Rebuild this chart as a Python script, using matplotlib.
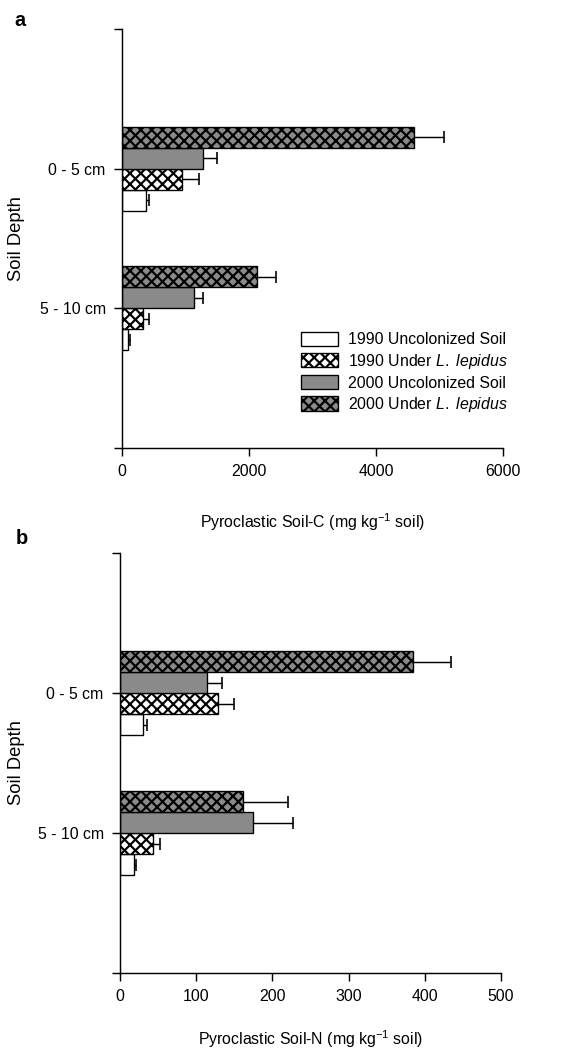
import numpy as np
import matplotlib
matplotlib.use("Agg")
import matplotlib.pyplot as plt

plt.rcParams['font.family'] = ['Liberation Sans', 'DejaVu Sans']
plt.rcParams['mathtext.fontset'] = 'custom'
plt.rcParams['mathtext.rm'] = 'Liberation Sans'
plt.rcParams['mathtext.it'] = 'Liberation Sans:italic'
plt.rcParams['hatch.linewidth'] = 1.2

# --- data ---
depths = ['0 - 5 cm', '5 - 10 cm']
series = ['1990 Uncolonized Soil', r'1990 Under $\mathit{L.\ lepidus}$',
          '2000 Uncolonized Soil', r'2000 Under $\mathit{L.\ lepidus}$']

carbon = [[375, 95], [945, 335], [1275, 1135], [4600, 2125]]
carbon_err = [[50, 30], [265, 85], [220, 145], [470, 300]]

nitrogen = [[30, 18], [129, 43], [114, 174], [385, 162]]
nitrogen_err = [[5, 3], [21, 10], [20, 53], [50, 59]]

# --- style ---
fills = ['white', 'white', '#8a8a8a', '#8a8a8a']
hatches = [None, 'xxxx', None, 'xxxx']
bar_h = 0.15
offsets = (np.arange(4) - 1.5) * bar_h

fig = plt.figure(figsize=(4.5, 1050 / 130), dpi=130)
ax_a = fig.add_axes([122 / 585, 1 - 448 / 1050, 381 / 585, 419 / 1050])
ax_b = fig.add_axes([120 / 585, 1 - 973 / 1050, 381 / 585, 420 / 1050])


def draw(ax, vals, errs, xmax, step, xlabel, ylab_x, xlab_y):
    ypos = len(depths) - np.arange(len(depths))
    handles = []
    for k in range(4):
        b = ax.barh(ypos + offsets[k], vals[k], height=bar_h, color=fills[k],
                    edgecolor='black', linewidth=0.75, hatch=hatches[k],
                    label=series[k], zorder=2)
        ax.errorbar(vals[k], ypos + offsets[k],
                    xerr=[np.zeros(len(depths)), errs[k]], fmt='none',
                    ecolor='black', elinewidth=0.8, capsize=3.5,
                    capthick=0.9, zorder=1)
        handles.append(b)
    ax.set_xlim(0, xmax)
    ax.set_ylim(0, 3)
    ax.set_xticks(np.arange(0, xmax + 1, step))
    ax.set_yticks([0, 1, 2, 3])
    ax.set_yticklabels(['', depths[1], depths[0], ''])
    for s in ['top', 'right']:
        ax.spines[s].set_visible(False)
    for s in ['left', 'bottom']:
        ax.spines[s].set_linewidth(0.8)
    ax.tick_params(length=4.5, width=0.8, labelsize=8.8, pad=4.5)
    ax.set_xlabel(xlabel, fontsize=8.8)
    ax.set_ylabel('Soil Depth', fontsize=10.2)
    ax.yaxis.set_label_coords(ylab_x, 0.5)
    ax.xaxis.set_label_coords(0.5, xlab_y)
    return handles


h = draw(ax_a, carbon, carbon_err, 6000, 2000,
         r'Pyroclastic Soil-C (mg kg$^{-1}$ soil)', -0.255, -0.15)
draw(ax_b, nitrogen, nitrogen_err, 500, 100,
     r'Pyroclastic Soil-N (mg kg$^{-1}$ soil)', -0.25, -0.132)

ax_a.legend(handles=h, loc='upper left', bbox_to_anchor=(0.47, 0.278),
            frameon=False, fontsize=8.8, borderaxespad=0, borderpad=0,
            handlelength=2.3, handleheight=1.0, labelspacing=0.28,
            handletextpad=0.65)

fig.text(20 / 585, 1 - 21 / 1050, 'a', fontsize=11, fontweight='bold',
         ha='center', va='center')
fig.text(22 / 585, 1 - 538 / 1050, 'b', fontsize=11, fontweight='bold',
         ha='center', va='center')

fig.savefig('out.png', dpi=130)
